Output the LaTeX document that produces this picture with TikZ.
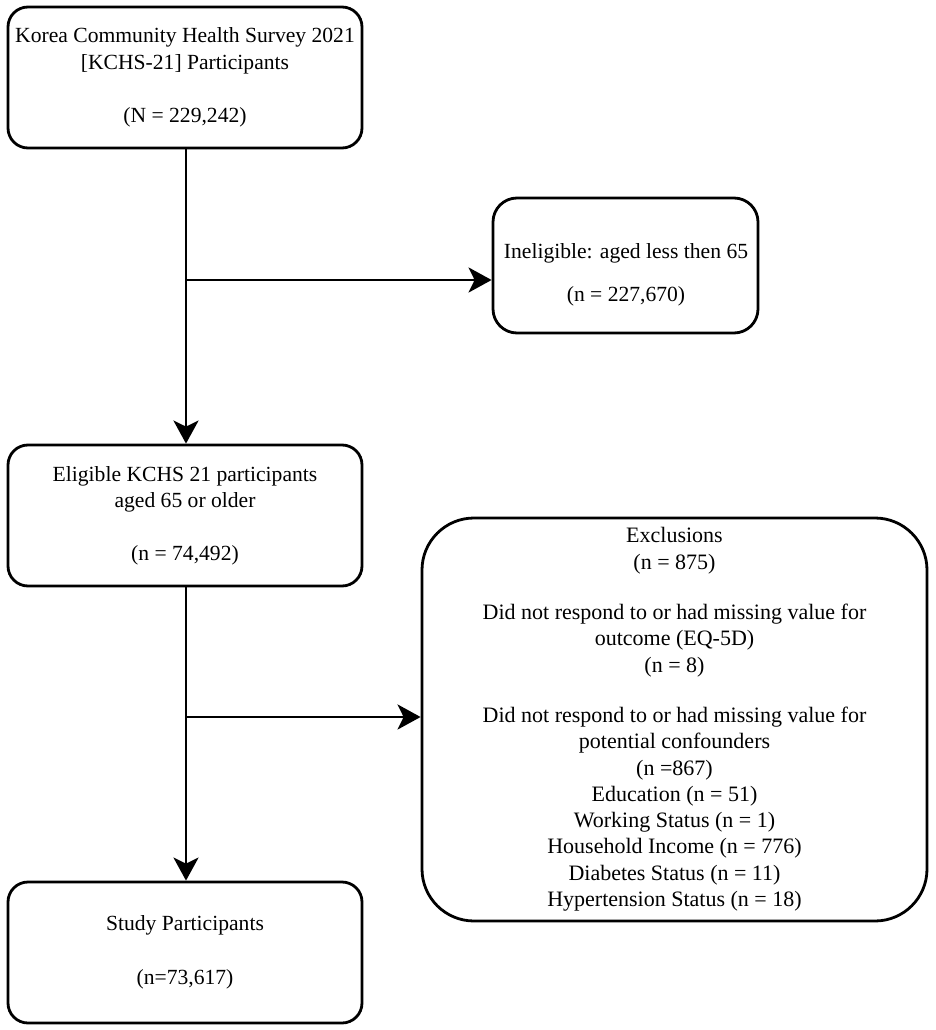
\documentclass[tikz,border=0pt]{standalone}
\usepackage{fontspec}
\setmainfont{Liberation Serif}
\usetikzlibrary{arrows.meta}
\begin{document}
\begin{tikzpicture}[x=1pt,y=-1pt,
  box/.style={draw=black, line width=2.8pt, align=center, inner sep=0pt,
    font=\fontsize{21.6}{26.5}\selectfont},
  txt/.style={align=center, inner sep=0pt, font=\fontsize{21.6}{26.5}\selectfont},
  conn/.style={line width=2.8pt, -{Stealth[length=23pt,width=25pt,inset=6pt]}}]
\useasboundingbox (0,0) rectangle (935,1030);
\node[box, rounded corners=20pt, minimum width=354pt, minimum height=141pt] (b1) at (185,77.5)
  {Korea Community Health Survey 2021\\ {[KCHS-21]} Participants\\[27pt] (N = 229,242)};
\node[box, rounded corners=24pt, minimum width=265pt, minimum height=135pt] (b2) at (625.5,265.5) {};
\node[txt] (b2t) at (626,275) {Ineligible: aged less then 65\\[17pt] (n = 227,670)};
\node[box, rounded corners=20pt, minimum width=354pt, minimum height=141pt] (b3) at (185,515.5)
  {Eligible KCHS 21 participants\\ aged 65 or older\\[26pt] (n = 74,492)};
\node[box, rounded corners=52pt, minimum width=505pt, minimum height=403pt,
  font=\fontsize{22}{26.3}\selectfont] (b4) at (674.5,719.5)
  {Exclusions\\ (n = 875)\\[24pt]
   Did not respond to or had missing value for\\ outcome (EQ-5D)\\ (n = 8)\\[24pt]
   Did not respond to or had missing value for\\ potential confounders\\ (n =867)\\
   Education (n = 51)\\ Working Status (n = 1)\\ Household Income (n = 776)\\
   Diabetes Status (n = 11)\\ Hypertension Status (n = 18)};
\node[box, rounded corners=20pt, minimum width=354pt, minimum height=141pt] (b5) at (185,952.5)
  {Study Participants\\[27pt] (n=73,617)};
\coordinate (j1) at (186,280);
\coordinate (j2) at (186,717);
\draw[conn] (b1.south -| j1) -- (b3.north -| j1);
\draw[conn] (j1) -- (j1 -| b2.west);
\draw[conn] (b3.south -| j2) -- (b5.north -| j2);
\draw[conn] (j2) -- (j2 -| b4.west);
\end{tikzpicture}
\end{document}
